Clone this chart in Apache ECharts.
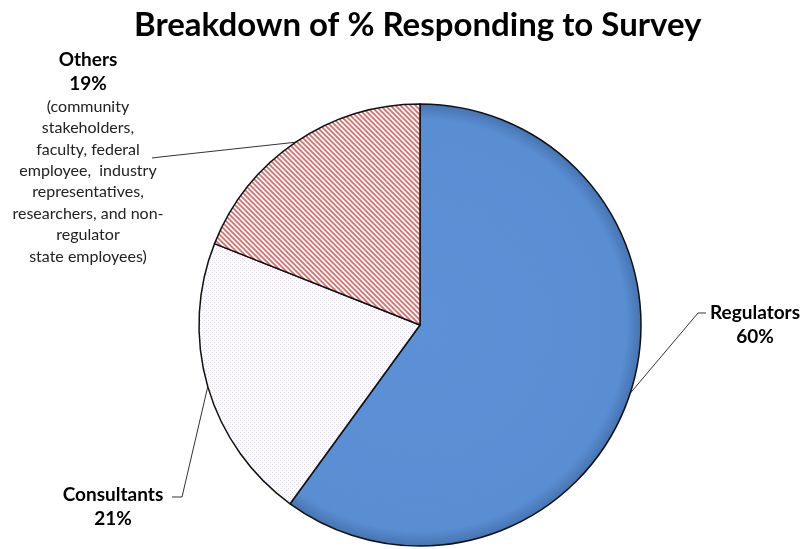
<!DOCTYPE html>
<html>
<head>
<meta charset="utf-8">
<script src="https://cdn.jsdelivr.net/npm/echarts@6/dist/echarts.min.js"></script>
<style>html,body{margin:0;padding:0;background:#fff;}#c{width:807px;height:549px;}</style>
</head>
<body>
<div id="c"></div>
<script>
// ---- data ----
const titleText = 'Breakdown of % Responding to Survey';
const categories = ['Regulators', 'Consultants', 'Others'];
const values = [60, 21, 19];
const othersDetail = ['(community', 'stakeholders,', 'faculty, federal', 'employee,  industry', 'representatives,', 'researchers, and non-', 'regulator', 'state employees)'];

// ---- patterns ----
function stripePattern() {
  const s = 5, c = document.createElement('canvas');
  c.width = s; c.height = s;
  const g = c.getContext('2d');
  g.fillStyle = '#ffffff'; g.fillRect(0, 0, s, s);
  g.strokeStyle = '#e06a68'; g.lineWidth = 1.7;
  for (let k = -1; k <= 1; k++) {
    g.beginPath(); g.moveTo(-1, -1 + k * s); g.lineTo(s + 1, s + 1 + k * s); g.stroke();
  }
  return c;
}
function dotPattern() {
  const s = 4, c = document.createElement('canvas');
  c.width = s; c.height = s;
  const g = c.getContext('2d');
  g.fillStyle = '#fbfbfd'; g.fillRect(0, 0, s, s);
  g.fillStyle = '#dcd8e6';
  g.fillRect(0, 0, 1, 1); g.fillRect(2, 2, 1, 1);
  return c;
}

const CX = 420, CY = 325, R = 221;
const styles = [
  { color: { type: 'radial', x: CX, y: CY, r: R, global: true, colorStops: [
      { offset: 0, color: '#5c91d7' }, { offset: 0.93, color: '#5a8ed3' }, { offset: 1, color: '#4674b2' }] } },
  { color: { image: dotPattern(), repeat: 'repeat' } },
  { color: { image: stripePattern(), repeat: 'repeat' } }
];

const labelSpots = [
  { x: 755, y: 301, align: 'center', elbow: [[698, 313], [706, 313]] },
  { x: 113, y: 483, align: 'center', elbow: [[182, 497], [172, 497]] },
  { x: 88, y: 48, align: 'center', elbow: [[160, 157], [152, 158]] }
];

const chart = echarts.init(document.getElementById('c'), null, { renderer: 'canvas' });
chart.setOption({
  backgroundColor: '#ffffff',
  title: {
    text: titleText, left: 129, top: 4,
    textStyle: { fontFamily: 'Lato', fontWeight: 'bold', fontSize: 33, color: '#000' }
  },
  series: [{
    type: 'pie',
    center: [CX, CY],
    radius: R,
    startAngle: 90,
    clockwise: true,
    animation: false,
    data: categories.map((n, i) => ({ name: n, value: values[i], itemStyle: styles[i] })),
    itemStyle: { borderColor: '#111', borderWidth: 1.5 },
    label: {
      show: true, position: 'outside',
      formatter: p => {
        let s = '{b|' + p.name + '}\n{b|' + p.value + '%}';
        if (p.dataIndex === 2) s += '\n' + othersDetail.map(t => '{s|' + t + '}').join('\n');
        return s;
      },
      rich: {
        b: { fontFamily: 'Lato', fontWeight: 'bold', fontSize: 19, lineHeight: 24, color: '#000', align: 'center' },
        s: { fontFamily: 'Lato', fontSize: 16, lineHeight: 21.4, color: '#222', align: 'center' }
      }
    },
    labelLine: { show: true, lineStyle: { color: '#333', width: 1 } },
    labelLayout: p => {
      const sp = labelSpots[p.dataIndex];
      const start = p.labelLinePoints ? p.labelLinePoints[0] : sp.elbow[0];
      return { x: sp.x, y: sp.y, align: sp.align, verticalAlign: 'top',
        labelLinePoints: [start, sp.elbow[0], sp.elbow[1]] };
    }
  }]
});
</script>
</body>
</html>
